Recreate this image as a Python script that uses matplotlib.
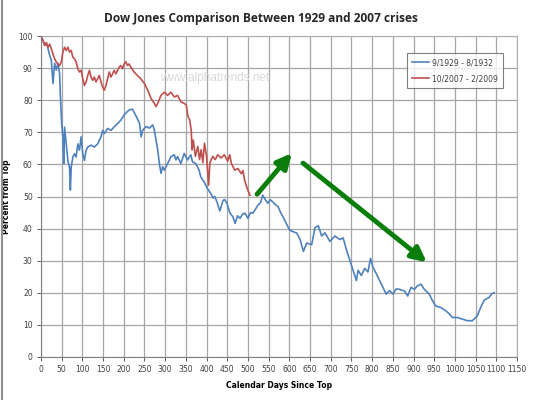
import matplotlib
matplotlib.use("Agg")
import matplotlib.pyplot as plt
from matplotlib.lines import Line2D

# 1929 crash, days since top vs percent of top
days1929 = [0, 5, 9, 14, 17, 21, 25, 29, 33, 37, 41, 45, 47, 50, 53, 55, 57, 61, 65, 69,
            71, 73, 77, 81, 85, 89, 93, 97, 101, 105, 109, 113, 121, 129, 137, 145, 149, 153,
            161, 169, 177, 185, 193, 201, 209, 214, 221, 226, 230, 238, 242, 246, 254, 262,
            270, 274, 278, 282, 286, 290, 294, 298, 306, 314, 322, 326, 330, 338, 346, 354,
            362, 366, 374, 382, 386, 394, 402, 410, 416, 420, 426, 432, 440, 444, 449, 456,
            464, 469, 475, 481, 487, 493, 500, 506, 512, 518, 524, 530, 536, 542, 548, 554,
            560, 566, 573, 579, 585, 593, 601, 610, 618, 626, 634, 642, 654, 662, 670, 678,
            686, 698, 710, 722, 730, 738, 746, 754, 762, 766, 774, 782, 790, 796, 802, 810,
            818, 826, 834, 842, 850, 858, 866, 874, 878, 886, 894, 902, 910, 918, 926, 938,
            946, 954, 966, 978, 986, 994, 1006, 1018, 1030, 1042, 1054, 1062, 1070, 1074,
            1082, 1090, 1095]
pct1929 = [100, 98.7, 97.2, 97.5, 96.1, 94, 92.5, 85.2, 91.5, 89.4, 91.5, 88.3, 81, 72.7,
           68.5, 60.2, 71.6, 66.4, 61.2, 59.1, 52, 59, 62.3, 63.3, 62.3, 66.4, 64.4, 68.6,
           63.3, 61.2, 64.4, 65.4, 66, 65.4, 66.4, 68.6, 70.6, 69.6, 71.2, 70.6, 71.7, 72.7,
           73.8, 75.4, 76.5, 77, 77.2, 76, 75, 72.8, 68.6, 70.7, 71.8, 71.3, 72.3, 70.7, 67.6,
           64.5, 60.3, 57.2, 59.3, 58.2, 60.3, 62.4, 63, 61.4, 62.4, 60.3, 63.4, 61.4, 63,
           60.8, 60.3, 58.2, 56.1, 54.6, 52.5, 51, 49.5, 50, 48, 45.5, 48.8, 49, 48, 45, 43.6,
           41.6, 44, 43.2, 44.5, 44.8, 43.2, 45, 44.8, 46, 47.3, 48, 50.4, 49, 47.9, 49, 48.3,
           47.5, 46.8, 45, 43.6, 41.5, 39.5, 39, 38.6, 36.6, 32.9, 35.5, 35, 40.3, 40.9, 37.7,
           38.7, 36, 37.7, 36.6, 37.1, 33.4, 30.2, 27, 23.8, 27, 25.4, 27.6, 26.5, 30.7, 28,
           26, 23.8, 21.7, 19.6, 20.7, 19.6, 21.2, 21.1, 20.7, 20.6, 19, 21.7, 21.1, 22.2,
           22.7, 21.1, 19.6, 17.5, 15.9, 15.4, 14.4, 13.5, 12.3, 12.3, 11.8, 11.3, 11.3, 12.8,
           15.4, 17.5, 18, 18.5, 19.8, 20]

# 2007 crisis
days2007 = [0, 5, 9, 13, 17, 21, 25, 29, 33, 37, 41, 45, 49, 53, 57, 61, 65, 69, 73, 77,
            81, 85, 89, 93, 97, 101, 105, 109, 113, 117, 121, 125, 129, 133, 137, 141, 145,
            149, 153, 157, 161, 165, 169, 173, 177, 181, 185, 189, 193, 197, 201, 205, 209,
            213, 217, 225, 233, 241, 250, 258, 266, 274, 278, 282, 290, 298, 306, 314, 322,
            330, 338, 346, 351, 355, 359, 363, 365, 368, 373, 379, 383, 387, 391, 395, 400,
            405, 408, 415, 421, 427, 435, 443, 451, 456, 460, 468, 476, 484, 488, 492, 500,
            505]
pct2007 = [99.6, 98.6, 97, 98, 96.5, 97.5, 96, 94.4, 92.9, 91.9, 91.3, 90.8, 91.9, 95,
           96.5, 95.5, 96.5, 95, 95.5, 93.4, 92.9, 91.9, 89.8, 88.8, 89.3, 86.7, 84.6, 85.7,
           87.7, 89.3, 87.2, 86.2, 87.2, 85.7, 86.7, 87.7, 85.7, 84.1, 83.1, 84.6, 86.7, 88.8,
           87.2, 88.2, 89.3, 88.2, 89.3, 90.3, 90.8, 89.8, 91.3, 92, 90.8, 91.3, 90.3, 88.8,
           87.7, 86.7, 85.2, 83.1, 80.5, 79, 78, 79, 81.5, 82.5, 81.5, 82.5, 81, 81.5, 79.5,
           79, 78.5, 75, 74, 70.7, 64.5, 67.6, 62.5, 65.6, 61.5, 64.6, 60.5, 66.6, 62.5, 53.5,
           60.5, 62.5, 61.5, 63, 62, 63, 61, 63, 60.3, 58.2, 58.7, 57.1, 58.1, 55, 51.9, 50.4]

labels = ["9/1929 - 8/1932", "10/2007 - 2/2009"]

# green arrows drawn on the chart: (start day, start pct, end day, end pct)
arrows = [(522, 50.7, 606, 63.5), (633, 60.4, 932, 29.5)]

fig = plt.figure(figsize=(5.5, 4), dpi=100)
ax = fig.add_axes([0.0745, 0.1075, 0.8655, 0.8025])

ax.plot(days1929, pct1929, color="#4F81BD", lw=1.2, label=labels[0], zorder=3)
ax.plot(days2007, pct2007, color="#C0504D", lw=1.2, label=labels[1], zorder=3)

for x0, y0, x1, y1 in arrows:
    ax.annotate("", xy=(x1, y1), xytext=(x0, y0),
                arrowprops=dict(arrowstyle="-|>", color="#0A7D0A", lw=3.5,
                                mutation_scale=22, shrinkA=0, shrinkB=0),
                zorder=4)

ax.text(420, 86.8, "www.alphatrends.net", color="#D9D9D9", fontsize=8.5,
        family="Liberation Sans", ha="center", va="center", zorder=2)

ax.set_xlim(0, 1150)
ax.set_ylim(0, 100)
ax.set_xticks(range(0, 1151, 50))
ax.set_yticks(range(0, 101, 10))
ax.grid(True, color="#A6A6A6", lw=0.9)
ax.set_axisbelow(True)
ax.tick_params(labelsize=5.5, colors="#404040", length=3, width=0.6, pad=3)
for s in ax.spines.values():
    s.set_color("#B0B0B0")
    s.set_linewidth(0.8)
ax.spines["left"].set_color("#808080")
ax.spines["bottom"].set_color("#808080")

ax.set_xlabel("Calendar Days Since Top", fontsize=5.5, fontweight="bold", labelpad=5)
ax.set_ylabel("Percent from Top", fontsize=5.5, fontweight="bold")
ax.yaxis.set_label_coords(-0.063, 0.5)

leg = ax.legend(loc="upper right", bbox_to_anchor=(0.922, 0.8775),
                bbox_transform=fig.transFigure, fontsize=5.5, fancybox=False,
                frameon=True, borderpad=0.7, labelspacing=0.9, handlelength=2.2,
                handletextpad=0.4)
leg.get_frame().set_edgecolor("#606060")
leg.get_frame().set_linewidth(0.8)
for t in leg.get_texts():
    t.set_color("#404040")

fig.suptitle("Dow Jones Comparison Between 1929 and 2007 crises", x=0.475, y=0.97,
             fontsize=8.6, fontweight="bold", family="Open Sans", color="#262626")

fig.add_artist(Line2D([0.004, 0.004], [0.0, 1.0], color="#909090", lw=1.5))

fig.savefig("out.png", dpi=100)
